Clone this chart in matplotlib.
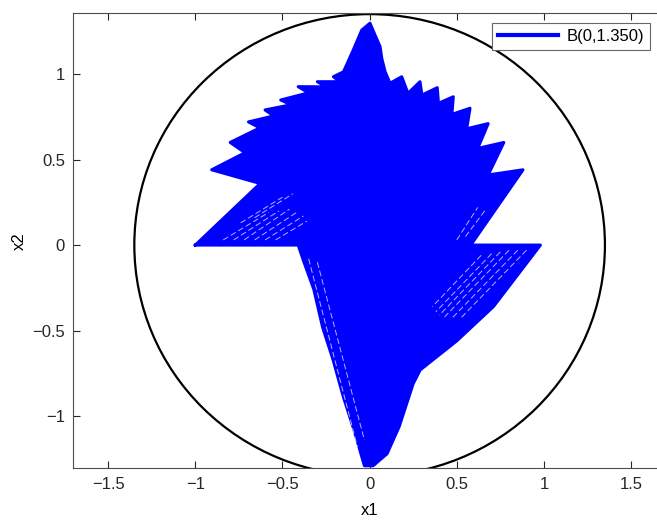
import matplotlib
matplotlib.use("Agg")
import matplotlib.pyplot as plt
from matplotlib.patches import Circle

plt.rcParams['font.family'] = ['Liberation Sans', 'DejaVu Sans']

# ball radius and legend label
radius = 1.35
label = 'B(0,1.350)'

# outline of the reachable set (clockwise from left tip)
outline_x = [-1.0, -0.41, -0.38, -0.32, -0.27, -0.21, -0.15, -0.09, -0.05, -0.03,
             0.02, 0.10, 0.17, 0.25, 0.29, 0.50, 0.71, 0.98, 0.58,
             0.88, 0.68, 0.77, 0.62, 0.68, 0.557, 0.576, 0.472, 0.48, 0.395, 0.388,
             0.30, 0.289, 0.22, 0.184, 0.117, 0.089, 0.07, 0.06, 0.03, 0.002,
             -0.045, -0.094, -0.15, -0.208, -0.17, -0.30, -0.25, -0.41, -0.35,
             -0.51, -0.45, -0.60, -0.55, -0.695, -0.63, -0.80, -0.715, -0.906,
             -0.628, -1.0]
outline_y = [0.0, 0.0, -0.09, -0.26, -0.48, -0.67, -0.89, -1.08, -1.22, -1.29,
             -1.29, -1.22, -1.06, -0.81, -0.73, -0.56, -0.36, 0.0, 0.0,
             0.44, 0.41, 0.60, 0.565, 0.71, 0.68, 0.80, 0.764, 0.867, 0.829, 0.92,
             0.877, 0.955, 0.887, 0.984, 0.946, 1.013, 1.09, 1.16, 1.23, 1.297,
             1.257, 1.14, 1.013, 0.984, 0.955, 0.955, 0.925, 0.926, 0.89,
             0.848, 0.82, 0.79, 0.755, 0.72, 0.685, 0.60, 0.54, 0.44,
             0.36, 0.0]

# thin white gaps between the trajectory strands (left fan, lower right fan,
# and the looped lower-left edge)
gap_x0 = [-0.84, -0.78, -0.72, -0.66, -0.60, -0.54, -0.74, -0.66,
          0.90, 0.85, 0.80, 0.75, 0.70, 0.64, 0.50, 0.55,
          -0.35, -0.30]
gap_y0 = [0.03, 0.03, 0.03, 0.03, 0.03, 0.03, 0.13, 0.16,
          -0.03, -0.03, -0.03, -0.04, -0.05, -0.06, 0.03, 0.05,
          -0.08, -0.10]
gap_x1 = [-0.58, -0.52, -0.46, -0.42, -0.38, -0.36, -0.50, -0.44,
          0.52, 0.47, 0.43, 0.40, 0.38, 0.36, 0.62, 0.66,
          -0.07, -0.03]
gap_y1 = [0.19, 0.20, 0.21, 0.19, 0.17, 0.14, 0.28, 0.30,
          -0.43, -0.43, -0.42, -0.41, -0.39, -0.36, 0.22, 0.20,
          -1.18, -1.14]

xticks = [-1.5, -1, -0.5, 0, 0.5, 1, 1.5]
yticks = [-1, -0.5, 0, 0.5, 1]

fig = plt.figure(figsize=(6.57, 5.25), dpi=100)
ax = fig.add_axes([0.1116, 0.108, 0.902, 0.8667])

ax.add_patch(Circle((0, 0), radius, fill=False, color='black', lw=1.6))
ax.fill(outline_x, outline_y, color='#0000ff', lw=0)
ax.plot(outline_x, outline_y, color='#0000ff', lw=2.2, label=label)
for i in range(len(gap_x0)):
    ax.plot([gap_x0[i], gap_x1[i]], [gap_y0[i], gap_y1[i]], color='white',
            lw=0.7, alpha=0.7, dashes=(6, 3))

ax.set_xlim(-1.7, 1.7)
ax.set_ylim(-1.305, 1.355)
ax.set_xticks(xticks)
ax.set_yticks(yticks)
ax.set_xticklabels(['\u22121.5', '\u22121', '\u22120.5', '0', '0.5', '1', '1.5'])
ax.set_yticklabels(['\u22121', '\u22120.5', '0', '0.5', '1'])
ax.tick_params(direction='in', top=True, right=True, length=5, width=0.8,
               labelsize=12, colors='#262626', pad=6)
for s in ax.spines.values():
    s.set_color('#4d4d4d')
    s.set_linewidth(0.8)

ax.set_xlabel('x1', fontsize=12, labelpad=8)
ax.set_ylabel('x2', fontsize=12, labelpad=4)

leg = ax.legend(loc='upper right', bbox_to_anchor=(0.989, 0.956),
                bbox_transform=fig.transFigure, borderaxespad=0, fontsize=12,
                fancybox=False, handlelength=3.6, handletextpad=0.5,
                borderpad=0.35, framealpha=1)
leg.get_frame().set_edgecolor('#666666')
leg.get_frame().set_linewidth(0.8)
leg.get_lines()[0].set_linewidth(3)

fig.savefig('out.png', dpi=100)
